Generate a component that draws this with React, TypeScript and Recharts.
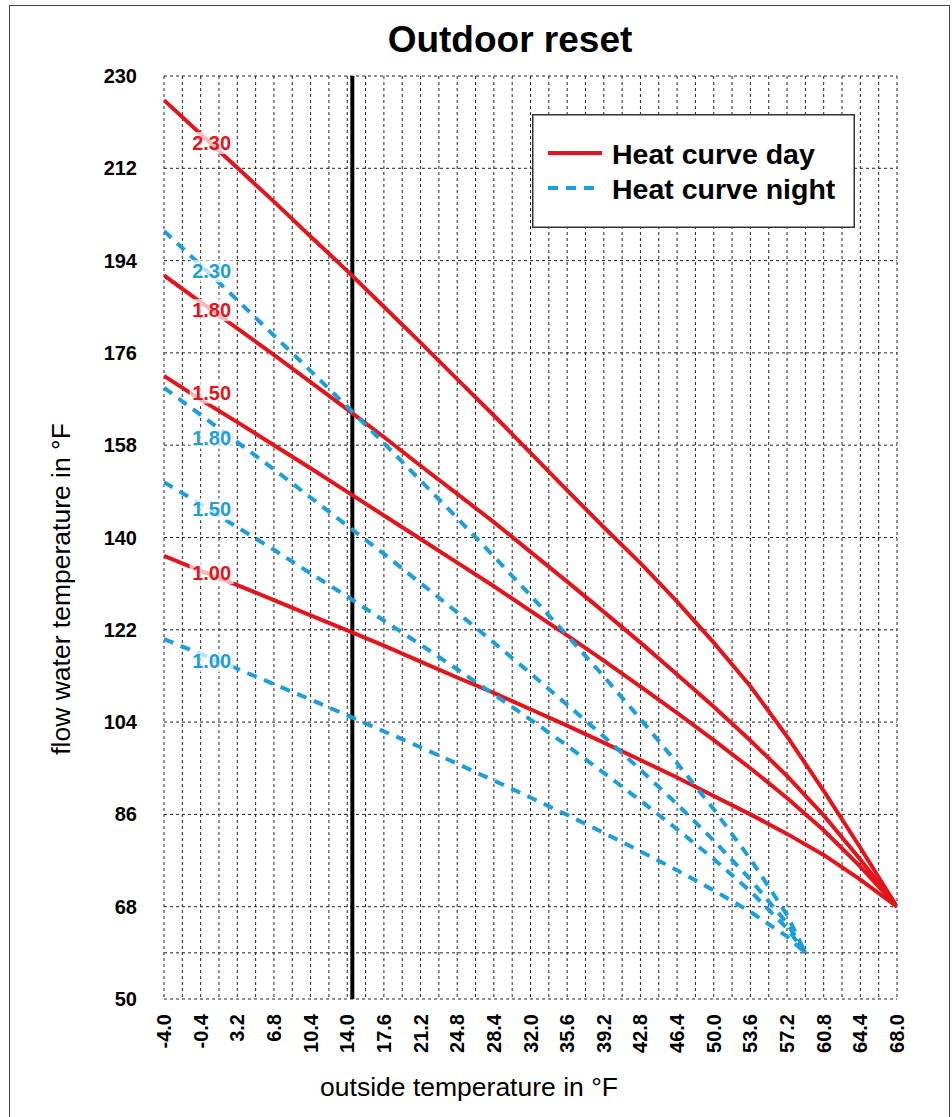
import React from 'react'
import { LineChart, Line, XAxis, YAxis, CartesianGrid, ReferenceLine, Legend, LabelList } from 'recharts'

// outside temperature in °F (every 2 °C)
const outsideF = [-4.0, -0.4, 3.2, 6.8, 10.4, 14.0, 17.6, 21.2, 24.8, 28.4, 32.0, 35.6, 39.2, 42.8, 46.4, 50.0, 53.6, 57.2, 60.8, 64.4, 68.0]
const nightOutsideF = [-4.0, -0.4, 3.2, 6.8, 10.4, 14.0, 17.6, 21.2, 24.8, 28.4, 32.0, 35.6, 39.2, 42.8, 46.4, 50.0, 53.6, 57.2, 59.0]
const flowTicks = [50, 68, 86, 104, 122, 140, 158, 176, 194, 212, 230]
const flowGrid = [50, 59, 68, 86, 104, 122, 140, 158, 176, 194, 212, 230]
const designOutside = 14.5

// day curves (flow water °F)
const day230 = [225.3, 218.7, 212.1, 205.5, 198.7, 192.0, 185.0, 178.0, 170.9, 163.8, 156.5, 149.2, 142.0, 135.0, 127.5, 119.5, 111.0, 101.2, 90.6, 79.5, 68.0]
const day180 = [191.1, 185.9, 180.8, 175.6, 170.3, 165.0, 159.6, 154.0, 148.5, 143.0, 137.2, 131.4, 125.5, 119.5, 113.3, 107.0, 100.4, 93.5, 85.8, 77.2, 68.0]
const day150 = [171.5, 166.9, 162.5, 158.0, 153.5, 148.9, 144.3, 139.7, 135.1, 130.5, 125.7, 120.9, 116.0, 110.9, 105.8, 100.5, 95.0, 89.2, 82.9, 75.8, 68.0]
const day100 = [136.4, 133.5, 130.7, 127.8, 124.8, 121.9, 118.9, 115.8, 112.7, 109.7, 106.5, 103.3, 100.0, 96.6, 93.2, 89.6, 86.0, 82.2, 78.1, 73.3, 68.0]

// night curves (flow water °F)
const night230 = [199.8, 193.1, 186.3, 179.4, 172.5, 165.5, 158.4, 151.1, 143.8, 136.3, 128.7, 120.9, 112.9, 104.6, 96.0, 87.0, 77.3, 66.4, 59.0]
const night180 = [169.2, 163.9, 158.6, 153.3, 147.8, 142.3, 136.8, 131.1, 125.4, 119.5, 113.5, 107.4, 101.2, 94.7, 88.0, 80.9, 73.3, 64.8, 59.0]
const night150 = [150.8, 146.5, 142.0, 137.6, 133.0, 128.5, 123.8, 119.1, 114.3, 109.4, 104.5, 99.4, 94.1, 88.7, 83.1, 77.3, 71.0, 63.8, 59.0]
const night100 = [120.2, 117.3, 114.4, 111.4, 108.4, 105.3, 102.2, 99.1, 95.9, 92.6, 89.3, 85.9, 82.4, 78.8, 75.1, 71.2, 67.0, 62.2, 59.0]

const dayRows = outsideF.map((x, i) => ({ x, c230: day230[i], c180: day180[i], c150: day150[i], c100: day100[i] }))
const nightRows = nightOutsideF.map((x, i) => ({ x, c230: night230[i], c180: night180[i], c150: night150[i], c100: night100[i] }))

// vertical grid every 1.8 °F (1 °C)
const gridX = outsideF.flatMap((t, i) => (i ? [(outsideF[i - 1] + t) / 2, t] : [t]))

const RED = '#e3141b'
const BLUE = '#1b9edb'
const FONT = '"Liberation Sans", Arial, sans-serif'

const curves = [
  { id: 'd230', rows: dayRows, key: 'c230', text: '2.30', night: false, dy: 9, name: 'Heat curve day' },
  { id: 'd180', rows: dayRows, key: 'c180', text: '1.80', night: false, dy: 8 },
  { id: 'd150', rows: dayRows, key: 'c150', text: '1.50', night: false, dy: -7 },
  { id: 'd100', rows: dayRows, key: 'c100', text: '1.00', night: false, dy: 2 },
  { id: 'n230', rows: nightRows, key: 'c230', text: '2.30', night: true, dy: 6, name: 'Heat curve night' },
  { id: 'n180', rows: nightRows, key: 'c180', text: '1.80', night: true, dy: 23 },
  { id: 'n150', rows: nightRows, key: 'c150', text: '1.50', night: true, dy: 5 },
  { id: 'n100', rows: nightRows, key: 'c100', text: '1.00', night: true, dy: 7 },
]

const curveLabel = (text: string, color: string, dy: number) => (props: any) => {
  if (props.index !== 1) return null
  const cx = Number(props.x) + 11
  const cy = Number(props.y) + dy
  return (
    <g>
      <rect x={cx - 22} y={cy - 11} width={44} height={22} fill="#fff" fillOpacity={0.7} />
      <text x={cx} y={cy} textAnchor="middle" dominantBaseline="central" fill={color} fontSize={20} fontWeight="bold" fontFamily={FONT}>
        {text}
      </text>
    </g>
  )
}

const XTick = (props: any) => {
  const { x, y, payload } = props
  return (
    <text transform={`translate(${x},${y + 7}) rotate(-90)`} textAnchor="end" dominantBaseline="central" fontSize={20} fontWeight="bold" fontFamily={FONT} fill="#000">
      {Number(payload.value).toFixed(1)}
    </text>
  )
}

const YTick = (props: any) => {
  const { x, y, payload } = props
  return (
    <text x={x - 19} y={y} textAnchor="end" dominantBaseline="central" fontSize={20} fontWeight="bold" fontFamily={FONT} fill="#000">
      {payload.value}
    </text>
  )
}

const renderLegend = () => (
  <svg width={323} height={114} style={{ display: 'block' }}>
    <rect x={0.75} y={0.75} width={321.5} height={112.5} fill="#fff" stroke="#333" strokeWidth={1.5} />
    <line x1={16} x2={70} y1={39} y2={39} stroke={RED} strokeWidth={4} />
    <line x1={16} x2={70} y1={74} y2={74} stroke={BLUE} strokeWidth={4} strokeDasharray="10 8" />
    <text x={80} y={40} dominantBaseline="central" fontSize={28.5} fontWeight="bold" fontFamily={FONT}>Heat curve day</text>
    <text x={80} y={75} dominantBaseline="central" fontSize={28.5} fontWeight="bold" fontFamily={FONT}>Heat curve night</text>
  </svg>
)

export default function App() {
  return (
    <div style={{ position: 'absolute', left: 0, top: 0, width: 952, height: 1117, overflow: 'hidden', background: '#fff', fontFamily: FONT }}>
      <div style={{ position: 'absolute', left: 9, top: 5, width: 941, height: 1130, border: '1.5px solid #444', boxSizing: 'border-box' }} />
      <div style={{ position: 'absolute', left: 0, width: 1020, top: 18, textAlign: 'center', fontSize: 37, fontWeight: 'bold', lineHeight: '44px' }}>
        Outdoor reset
      </div>
      <div style={{ position: 'absolute', left: 469, top: 1087, transform: 'translate(-50%, -50%)', fontSize: 26.5, whiteSpace: 'nowrap' }}>
        outside temperature in °F
      </div>
      <div style={{ position: 'absolute', left: 61, top: 589, transform: 'translate(-50%, -50%) rotate(-90deg)', fontSize: 26.5, whiteSpace: 'nowrap' }}>
        flow water temperature in °F
      </div>
      <div style={{ position: 'absolute', left: 0, top: 0 }}>
        <LineChart width={952} height={1117} margin={{ top: 76, right: 55, bottom: 58, left: 104 }}>
          <CartesianGrid stroke="#222" strokeDasharray="3 3" strokeWidth={1} horizontalValues={flowGrid} verticalValues={gridX} />
          <XAxis dataKey="x" type="number" domain={[-4, 68]} ticks={outsideF} interval={0} height={60} axisLine={false} tickLine={false} tick={<XTick />} allowDataOverflow />
          <YAxis type="number" domain={[50, 230]} ticks={flowTicks} interval={0} width={60} axisLine={false} tickLine={false} tick={<YTick />} allowDataOverflow />
          <ReferenceLine x={designOutside} stroke="#000" strokeWidth={4} />
          {curves.map((c) => {
            const color = c.night ? BLUE : RED
            return (
              <Line
                key={c.id}
                data={c.rows}
                dataKey={c.key}
                name={c.name ?? c.id}
                type="linear"
                stroke={color}
                strokeWidth={4}
                strokeDasharray={c.night ? '10 8' : undefined}
                dot={false}
                activeDot={false}
                legendType={c.name ? 'line' : 'none'}
                isAnimationActive={false}
              >
                <LabelList dataKey={c.key} content={curveLabel(c.text, color, c.dy)} />
              </Line>
            )
          })}
          <Legend
            layout="horizontal"
            verticalAlign="middle"
            align="center"
            content={renderLegend}
            wrapperStyle={{ position: 'absolute', left: 532, top: 114, width: 323, height: 114 }}
          />
        </LineChart>
      </div>
    </div>
  )
}
